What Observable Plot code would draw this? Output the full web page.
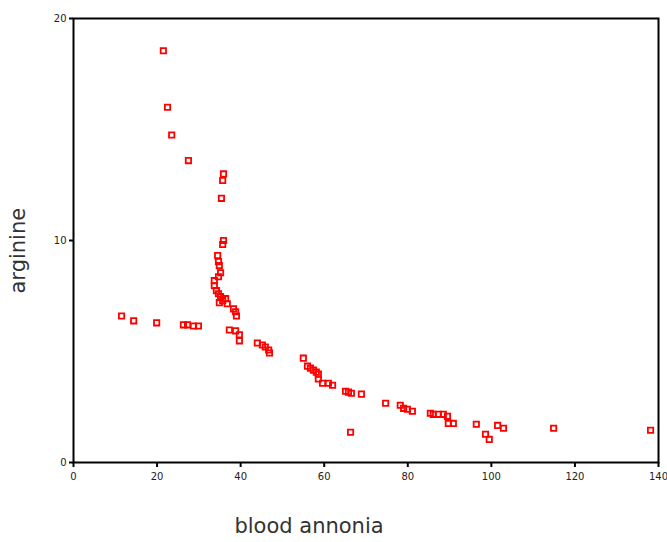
<!DOCTYPE html>
<html>
<head>
<meta charset="utf-8">
<script src="https://cdn.jsdelivr.net/npm/d3@7"></script>
<script src="https://cdn.jsdelivr.net/npm/@observablehq/plot@0.6"></script>
<style>
  html, body { margin: 0; padding: 0; background: #fff; }
  #chart { width: 667px; height: 542px; overflow: hidden; }
</style>
</head>
<body>
<div id="chart"></div>
<script>
const xLabel = "blood annonia";
const yLabel = "arginine";
const xTicks = [0, 20, 40, 60, 80, 100, 120, 140];
const yTicks = [0, 10, 20];

const bloodAmmonia = [
  21.5, 22.5, 23.5, 27.5, 35.9, 35.7, 35.4, 35.9, 35.7, 34.5,
  34.7, 34.9, 35.2, 34.7, 33.7, 33.7, 34.2, 34.7, 35.2, 35.7,
  36.4, 36.8, 34.9, 38.3, 38.8, 39.0, 37.3, 38.8, 39.7, 39.7,
  44.0, 45.2, 45.9, 46.7, 46.9, 55.0, 56.0, 56.7, 57.4, 58.1,
  58.6, 58.6, 59.6, 61.0, 62.0, 65.1, 65.8, 66.5, 68.9, 74.7,
  78.2, 79.0, 79.9, 81.1, 85.4, 86.1, 87.3, 88.5, 89.5, 89.7,
  90.9, 96.4, 98.6, 99.5, 101.5, 102.9, 66.3, 114.9, 138.1,
  11.5, 14.4, 19.9, 26.3, 27.3, 28.7, 29.9
];
const arginine = [
  18.55, 16.0, 14.75, 13.6, 13.0, 12.7, 11.9, 10.0, 9.82, 9.32,
  9.05, 8.87, 8.55, 8.37, 8.19, 7.96, 7.74, 7.6, 7.47, 7.29,
  7.38, 7.15, 7.2, 6.92, 6.79, 6.6, 5.97, 5.93, 5.75, 5.48,
  5.38, 5.29, 5.2, 5.07, 4.93, 4.7, 4.34, 4.25, 4.16, 4.07,
  3.98, 3.76, 3.57, 3.57, 3.48, 3.21, 3.17, 3.12, 3.08, 2.67,
  2.58, 2.44, 2.4, 2.31, 2.22, 2.17, 2.17, 2.17, 2.08, 1.76,
  1.76, 1.72, 1.27, 1.04, 1.67, 1.54, 1.36, 1.54, 1.45,
  6.6, 6.38, 6.29, 6.2, 6.2, 6.15, 6.15
];

const data = bloodAmmonia.map((x, i) => ({x, y: arginine[i]}));

const chart = Plot.plot({
  width: 667,
  height: 542,
  marginLeft: 73,
  marginRight: 9,
  marginTop: 18,
  marginBottom: 80,
  style: {fontFamily: "'DejaVu Sans', Verdana, sans-serif", background: "#fff"},
  x: {domain: [0, 140]},
  y: {domain: [0, 20]},
  marks: [
    Plot.axisX({ticks: xTicks, tickSize: 5, tickPadding: 5, strokeWidth: 2, fontSize: 10, label: null, fill: "#222"}),
    Plot.axisY({ticks: yTicks, tickSize: 4, tickPadding: 3, strokeWidth: 2, fontSize: 10, label: null, fill: "#222"}),
    Plot.frame({stroke: "#000", strokeWidth: 2}),
    Plot.dot(data, {x: "x", y: "y", symbol: "square", r: 3, stroke: "#f00", strokeWidth: 1.8, fill: "none"}),
    Plot.text([xLabel], {frameAnchor: "bottom", dx: -57, dy: 70, fontSize: 21, fill: "#333", text: d => d}),
    Plot.text([yLabel], {frameAnchor: "left", dx: -55, dy: 53, rotate: -90, fontSize: 21, fill: "#333", text: d => d})
  ]
});
document.getElementById("chart").appendChild(chart);
</script>
</body>
</html>
